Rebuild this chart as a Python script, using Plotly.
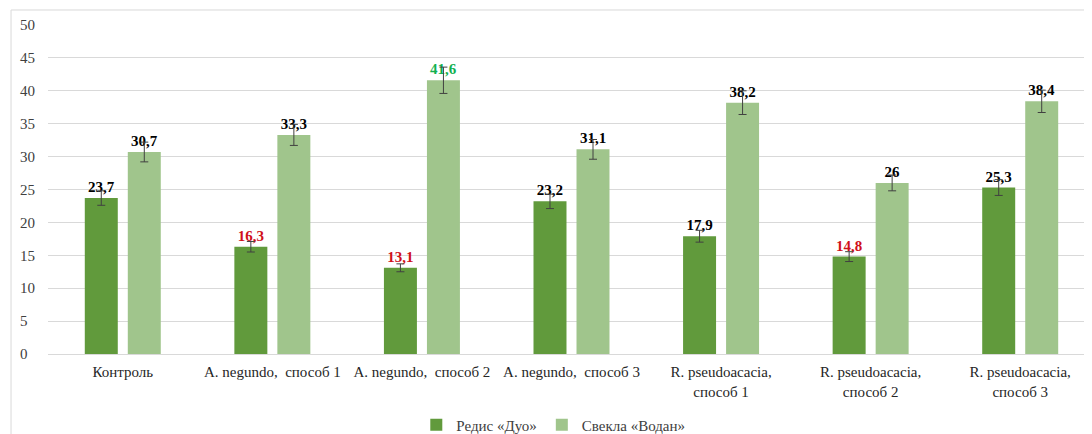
import plotly.graph_objects as go

categories = ["Контроль", "A. negundo,\u00a0 способ 1", "A. negundo,\u00a0 способ 2",
              "A. negundo,\u00a0 способ 3", "R. pseudoacacia,<br>способ 1",
              "R. pseudoacacia,<br>способ 2", "R. pseudoacacia,<br>способ 3"]
redis = [23.7, 16.3, 13.1, 23.2, 17.9, 14.8, 25.3]
svekla = [30.7, 33.3, 41.6, 31.1, 38.2, 26, 38.4]
redis_err = [1.1, 0.8, 0.6, 1.1, 0.9, 0.75, 1.2]
svekla_err = [1.5, 1.6, 2.0, 1.5, 1.8, 1.2, 1.7]
redis_label_colors = ["#000000", "#d0101a", "#d0101a", "#000000", "#000000", "#d0101a", "#000000"]
svekla_label_colors = ["#000000", "#000000", "#12b050", "#000000", "#000000", "#000000", "#000000"]
y_ticks = [0, 5, 10, 15, 20, 25, 30, 35, 40, 45, 50]
y_ticktext = [(str(v) + "<span style='color:rgba(0,0,0,0)'>0</span>") if v < 10 else str(v)
              for v in y_ticks]

SERIF = "Liberation Serif"

def fmt(v):
    return ("%g" % v).replace(".", ",")

fig = go.Figure()
fig.add_trace(go.Bar(
    name="Редис «Дуо»", x=categories, y=redis,
    marker=dict(color="#619a3c", line=dict(width=0)),
    error_y=dict(type="data", array=redis_err, color="#404040", thickness=1, width=4),
    text=[fmt(v) for v in redis], textposition="outside",
    textfont=dict(family=SERIF, size=15, color=redis_label_colors),
    cliponaxis=False,
))
fig.add_trace(go.Bar(
    name="Свекла «Водан»", x=categories, y=svekla,
    marker=dict(color="#a0c58c", line=dict(width=0)),
    error_y=dict(type="data", array=svekla_err, color="#404040", thickness=1, width=4),
    text=[fmt(v) for v in svekla], textposition="outside",
    textfont=dict(family=SERIF, size=15, color=svekla_label_colors),
    cliponaxis=False,
))

fig.update_traces(texttemplate="<b>%{text}</b>")

fig.update_layout(
    width=1084, height=426,
    margin=dict(l=40, r=0, t=17, b=80),
    paper_bgcolor="white", plot_bgcolor="white",
    barmode="group", bargap=0.425, bargroupgap=0.233,
    font=dict(family=SERIF, size=15, color="#404040"),
    showlegend=True,
    legend=dict(orientation="h", x=0.484, xanchor="center",
                yref="container", y=0.021, yanchor="middle",
                font=dict(family=SERIF, size=15, color="#404040"),
                itemwidth=30, traceorder="normal"),
    xaxis=dict(range=[-0.5, 6.48], showgrid=False, showline=False, ticks="",
               ticklabelstandoff=7,
               tickfont=dict(family=SERIF, size=15, color="#262626")),
    yaxis=dict(range=[0, 50], tickmode="array", tickvals=y_ticks, ticktext=y_ticktext,
               showgrid=True, gridcolor="#d9d9d9", gridwidth=1,
               zeroline=True, zerolinecolor="#d9d9d9", zerolinewidth=1,
               showline=False, ticks="", ticklabelstandoff=12,
               tickfont=dict(family=SERIF, size=15, color="#404040")),
    shapes=[dict(type="rect", xref="paper", yref="paper",
                 x0=-0.0354, x1=1.2, y0=-0.5, y1=1.0456,
                 line=dict(color="#d9d9d9", width=1), fillcolor="rgba(0,0,0,0)", layer="below")],
)

fig.write_html("out.html")
